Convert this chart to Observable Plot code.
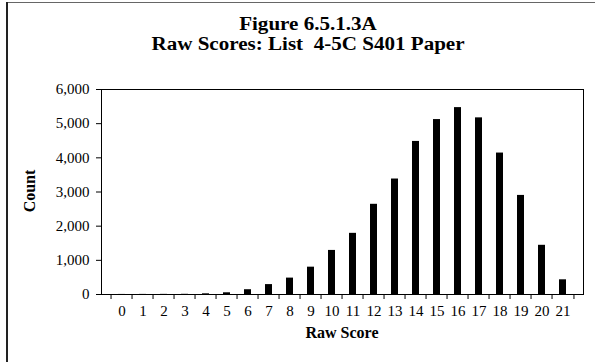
<!DOCTYPE html>
<html>
<head>
<meta charset="utf-8">
<script src="https://cdn.jsdelivr.net/npm/d3@7"></script>
<script src="https://cdn.jsdelivr.net/npm/@observablehq/plot@0.6"></script>
<style>
  html, body { margin: 0; padding: 0; background: #fff; }
  #wrap { position: relative; width: 595px; height: 362px; overflow: hidden; font-family: "Liberation Serif", "Times New Roman", serif; }
  #wrap svg { position: absolute; left: 0; top: 0; }
  .lbl { position: absolute; font-weight: bold; color: #000; white-space: nowrap; }
  .t { left: 0; width: 616px; text-align: center; font-size: 18px; line-height: 18px; transform: scaleX(1.17); transform-origin: 308px 50%; }
  #title1 { top: 15px; }
  #title2 { top: 35px; }
  #xlabel { left: 101px; width: 482px; top: 324px; text-align: center; font-size: 16px; line-height: 18px; }
  #ylabel { left: 30px; top: 191px; font-size: 16px; line-height: 18px; transform: translate(-50%, -50%) rotate(-90deg); }
  #borderTop { position: absolute; left: 6px; top: 2px; width: 589px; height: 1px; background: #666; }
  #borderLeft { position: absolute; left: 6px; top: 2px; width: 2px; height: 360px; background: #222; }
</style>
</head>
<body>
<div id="wrap">
  <div id="borderTop"></div>
  <div id="borderLeft"></div>
  <div id="title1" class="lbl t">Figure 6.5.1.3A</div>
  <div id="title2" class="lbl t">Raw Scores: List&nbsp; 4-5C S401 Paper</div>
  <div id="xlabel" class="lbl">Raw Score</div>
  <div id="ylabel" class="lbl">Count</div>
</div>
<script>
const scores = [0,1,2,3,4,5,6,7,8,9,10,11,12,13,14,15,16,17,18,19,20,21];
const counts = [2,3,4,6,20,50,140,290,480,800,1290,1790,2640,3380,4480,5120,5470,5170,4140,2900,1440,430];
const yTicks = [0,1000,2000,3000,4000,5000,6000];

const data = scores.map((s, i) => ({score: s, count: counts[i]}));

const W = 595, H = 362, mL = 101, mR = 12, mT = 89, mB = 68;
const step = (W - mL - mR) / scores.length;

const chart = Plot.plot({
  width: W,
  height: H,
  marginLeft: mL,
  marginRight: mR,
  marginTop: mT,
  marginBottom: mB,
  style: {fontFamily: "'Liberation Serif', 'Times New Roman', serif", fontSize: "15px", color: "#000", background: "transparent", overflow: "visible"},
  x: {type: "band", domain: scores, paddingInner: 0.68, paddingOuter: 0.34, label: null},
  y: {domain: [0, 6000], ticks: yTicks, label: null},
  marks: [
    Plot.frame({stroke: "#000", strokeWidth: 1}),
    Plot.barY(data, {x: "score", y: "count", fill: "#000"}),
    Plot.axisY({ticks: yTicks, tickSize: 5, tickPadding: 7, tickFormat: d3.format(","), fontSize: 15, label: null, stroke: "#000"}),
    Plot.axisX({tickSize: 0, tickPadding: 11, fontSize: 15, label: null}),
    Plot.ruleX(scores, {x: d => d, dx: -step / 2, y1: 0, y2: 0, insetBottom: -5, stroke: "#000"}),
    Plot.ruleX([scores[scores.length - 1]], {x: d => d, dx: step / 2, y1: 0, y2: 0, insetBottom: -5, stroke: "#000"})
  ]
});
document.getElementById("wrap").appendChild(chart);
</script>
</body>
</html>
